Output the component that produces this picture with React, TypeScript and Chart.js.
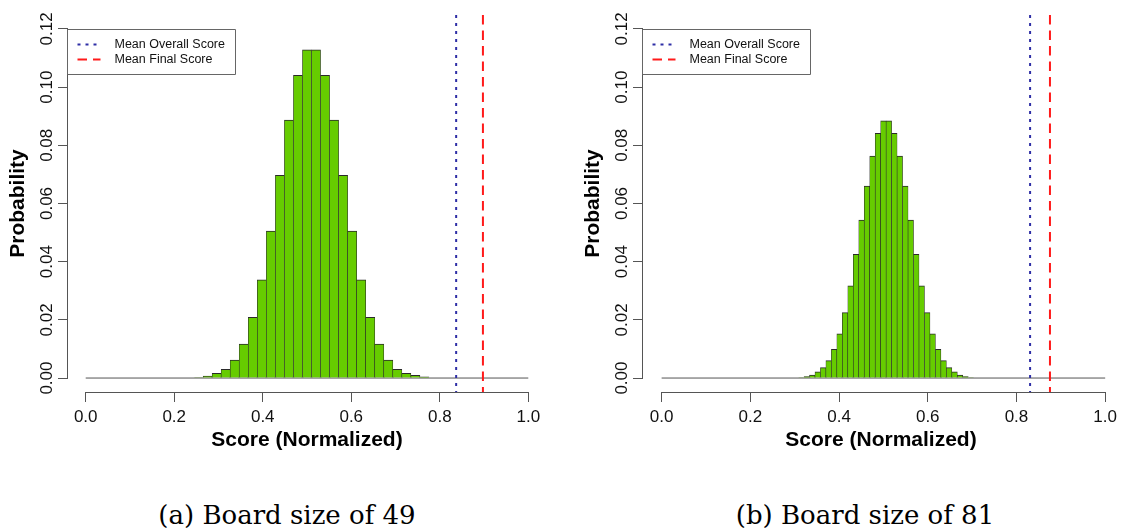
import React, { useEffect, useRef } from "react";
import { Chart, registerables } from "chart.js";

Chart.register(...registerables);

// ---------------- data ----------------
// (a) board size 49: histogram bin centres (bin width 1/49) and probabilities
const binCentersA = [
  0.2551, 0.2755, 0.2959, 0.3163, 0.3367, 0.3571, 0.3776, 0.398, 0.4184, 0.4388,
  0.4592, 0.4796, 0.5, 0.5204, 0.5408, 0.5612, 0.5816, 0.602, 0.6224, 0.6429,
  0.6633, 0.6837, 0.7041, 0.7245, 0.7449, 0.7653,
];
const probsA = [
  0.0002, 0.0007, 0.0016, 0.003, 0.0062, 0.0117, 0.0209, 0.0338, 0.0505, 0.0697,
  0.0887, 0.1041, 0.1128, 0.1128, 0.1041, 0.0887, 0.0697, 0.0505, 0.0338, 0.0209,
  0.0117, 0.0062, 0.003, 0.0016, 0.0009, 0.0004,
];
// (b) board size 81: histogram bin centres (bin width 1/81) and probabilities
const binCentersB = [
  0.3148, 0.3272, 0.3395, 0.3519, 0.3642, 0.3765, 0.3889, 0.4012, 0.4136, 0.4259,
  0.4383, 0.4506, 0.463, 0.4753, 0.4877, 0.5, 0.5123, 0.5247, 0.537, 0.5494,
  0.5617, 0.5741, 0.5864, 0.5988, 0.6111, 0.6235, 0.6358, 0.6481, 0.6605, 0.6728,
  0.6852, 0.6975,
];
const probsB = [
  0.0002, 0.0005, 0.001, 0.0021, 0.0036, 0.006, 0.0099, 0.0152, 0.0225, 0.0317,
  0.0425, 0.0543, 0.066, 0.0763, 0.0841, 0.0884, 0.0884, 0.0841, 0.0763, 0.066,
  0.0543, 0.0425, 0.0317, 0.0225, 0.0152, 0.0099, 0.006, 0.0036, 0.0021, 0.001,
  0.0005, 0.0002,
];
const meanOverall = [0.837, 0.8307];
const meanFinal = [0.8975, 0.8755];

const xTicks = [0, 0.2, 0.4, 0.6, 0.8, 1.0];
const yTicks = [0, 0.02, 0.04, 0.06, 0.08, 0.1, 0.12];
const legendLabels = ["Mean Overall Score", "Mean Final Score"];
const captions = ["(a) Board size of 49", "(b) Board size of 81"];
const xTitle = "Score (Normalized)";
const yTitle = "Probability";

// ---------------- styling ----------------
const SANS = "'Liberation Sans', Arial, Helvetica, sans-serif";
const GREEN = "#66cc00";
const BAR_EDGE = "#2a2a2a";
const AXIS = "#555555";
const BLUE = "#2e2ea6";
const RED = "#ff1a1a";
const DOT = [3, 5];
const DASH = [9.5, 6];
const H = 470;
const Y_MIN = -0.0048;
const Y_MAX = 0.1248;

const rStylePlugin = {
  id: "rStyle",
  afterDraw(chart: any) {
    const { ctx, chartArea: ca, scales } = chart;
    const x = scales.x;
    const y = scales.y;
    ctx.save();
    ctx.strokeStyle = AXIS;
    ctx.lineWidth = 1;
    ctx.setLineDash([]);
    // x axis line (R style: only between first and last tick)
    const yb = Math.round(ca.bottom) + 0.5;
    ctx.beginPath();
    ctx.moveTo(x.getPixelForValue(xTicks[0]), yb);
    ctx.lineTo(x.getPixelForValue(xTicks[xTicks.length - 1]), yb);
    ctx.stroke();
    // y axis line
    const xl = Math.round(ca.left) - 0.5;
    ctx.beginPath();
    ctx.moveTo(xl, y.getPixelForValue(yTicks[0]));
    ctx.lineTo(xl, y.getPixelForValue(yTicks[yTicks.length - 1]));
    ctx.stroke();
    // rotated y tick labels
    ctx.fillStyle = "#111";
    ctx.font = `17px ${SANS}`;
    ctx.textAlign = "center";
    ctx.textBaseline = "alphabetic";
    for (const v of yTicks) {
      ctx.save();
      ctx.translate(ca.left - 16, y.getPixelForValue(v));
      ctx.rotate(-Math.PI / 2);
      ctx.fillText(v.toFixed(2), 0, 0);
      ctx.restore();
    }
    // legend box
    const lx = xl;
    const ly = Math.round(y.getPixelForValue(yTicks[yTicks.length - 1])) + 0.5;
    ctx.strokeStyle = "#666";
    ctx.beginPath();
    ctx.rect(lx, ly, 168, 45);
    ctx.stroke();
    const ds = chart.data.datasets;
    ctx.font = `12.5px ${SANS}`;
    ctx.textAlign = "left";
    ctx.textBaseline = "middle";
    for (let i = 0; i < 2; i++) {
      const d = ds[i];
      const ry = ly + 15 + 15 * i;
      ctx.strokeStyle = d.borderColor;
      ctx.lineWidth = 2;
      ctx.setLineDash(d.borderDash);
      ctx.beginPath();
      ctx.moveTo(lx + 10, ry);
      ctx.lineTo(lx + 33, ry);
      ctx.stroke();
      ctx.setLineDash([]);
      ctx.fillStyle = "#111";
      ctx.fillText(d.label, lx + 47, ry + 0.5);
    }
    ctx.restore();
  },
};

type PanelProps = {
  centers: number[];
  probs: number[];
  meanO: number;
  meanF: number;
  xMin: number;
  xMax: number;
  width: number;
  left: number;
  padRight: number;
};

function Panel(p: PanelProps) {
  const ref = useRef<HTMLCanvasElement>(null);
  useEffect(() => {
    const canvas = ref.current;
    if (!canvas) return;
    const chart = new Chart(canvas, {
      type: "bar",
      data: {
        datasets: [
          {
            type: "line",
            label: legendLabels[0],
            data: [
              { x: p.meanO, y: Y_MAX },
              { x: p.meanO, y: Y_MIN },
            ],
            borderColor: BLUE,
            borderWidth: 2,
            borderDash: DOT,
            pointRadius: 0,
            order: 0,
          } as any,
          {
            type: "line",
            label: legendLabels[1],
            data: [
              { x: p.meanF, y: Y_MAX },
              { x: p.meanF, y: Y_MIN },
            ],
            borderColor: RED,
            borderWidth: 2,
            borderDash: DASH,
            pointRadius: 0,
            order: 0,
          } as any,
          {
            type: "bar",
            label: "Histogram",
            data: p.centers.map((c, i) => ({ x: c, y: p.probs[i] })),
            backgroundColor: GREEN,
            borderColor: BAR_EDGE,
            borderWidth: { top: 1, left: 0.6, right: 0.6, bottom: 0 },
            barPercentage: 1,
            categoryPercentage: 1,
            order: 1,
          } as any,
          {
            type: "line",
            label: "Baseline",
            data: [
              { x: xTicks[0], y: 0 },
              { x: xTicks[xTicks.length - 1], y: 0 },
            ],
            borderColor: "#555",
            borderWidth: 1,
            pointRadius: 0,
            order: 2,
          } as any,
        ],
      },
      options: {
        animation: false,
        responsive: false,
        layout: { padding: { left: 0, top: 15, right: p.padRight, bottom: 0 } },
        plugins: { legend: { display: false }, tooltip: { enabled: false } },
        scales: {
          x: {
            type: "linear",
            min: p.xMin,
            max: p.xMax,
            offset: false,
            afterBuildTicks: (s: any) => {
              s.ticks = xTicks.map((v) => ({ value: v }));
            },
            afterFit: (s: any) => {
              s.height = H - 392;
            },
            grid: {
              offset: false,
              drawOnChartArea: false,
              drawTicks: true,
              tickLength: 10,
              color: AXIS,
              lineWidth: 1,
            },
            border: { display: false },
            ticks: {
              autoSkip: false,
              maxRotation: 0,
              padding: 5,
              color: "#111",
              font: { family: SANS, size: 17 },
              callback: (v: any) => Number(v).toFixed(1),
            },
            title: {
              display: true,
              text: xTitle,
              color: "#000",
              font: { family: SANS, size: 21, weight: "bold" },
              padding: { top: 0, bottom: 17 },
            },
          },
          y: {
            type: "linear",
            min: Y_MIN,
            max: Y_MAX,
            afterBuildTicks: (s: any) => {
              s.ticks = yTicks.map((v) => ({ value: v }));
            },
            afterFit: (s: any) => {
              s.width = 68;
            },
            grid: {
              offset: false,
              drawOnChartArea: false,
              drawTicks: true,
              tickLength: 10,
              color: AXIS,
              lineWidth: 1,
            },
            border: { display: false },
            ticks: { display: false },
            title: {
              display: true,
              text: yTitle,
              color: "#000",
              font: { family: SANS, size: 21, weight: "bold" },
              padding: { top: 6, bottom: 0 },
            },
          },
        },
      } as any,
      plugins: [rStylePlugin as any],
    });
    return () => chart.destroy();
  }, []);
  return (
    <canvas
      ref={ref}
      width={p.width}
      height={H}
      style={{ position: "absolute", left: p.left, top: 0, width: p.width, height: H, display: "block" }}
    />
  );
}

const captionStyle: React.CSSProperties = {
  position: "absolute",
  top: 500,
  width: 400,
  textAlign: "center",
  fontFamily: "'DejaVu Serif', 'Liberation Serif', serif",
  fontSize: 26,
  lineHeight: "30px",
  color: "#000",
  whiteSpace: "nowrap",
};

export default function App() {
  return (
    <div
      style={{
        position: "absolute",
        left: 0,
        top: 0,
        width: 1122,
        height: 531,
        background: "#fff",
        overflow: "hidden",
      }}
    >
      <Panel
        centers={binCentersA}
        probs={probsA}
        meanO={meanOverall[0]}
        meanF={meanFinal[0]}
        xMin={-0.04}
        xMax={1.04}
        width={575}
        left={0}
        padRight={29}
      />
      <Panel
        centers={binCentersB}
        probs={probsB}
        meanO={meanOverall[1]}
        meanF={meanFinal[1]}
        xMin={-0.042}
        xMax={1.031}
        width={547}
        left={575}
        padRight={0}
      />
      <div style={{ ...captionStyle, left: 287 - 200 }}>{captions[0]}</div>
      <div style={{ ...captionStyle, left: 865 - 200 }}>{captions[1]}</div>
    </div>
  );
}
